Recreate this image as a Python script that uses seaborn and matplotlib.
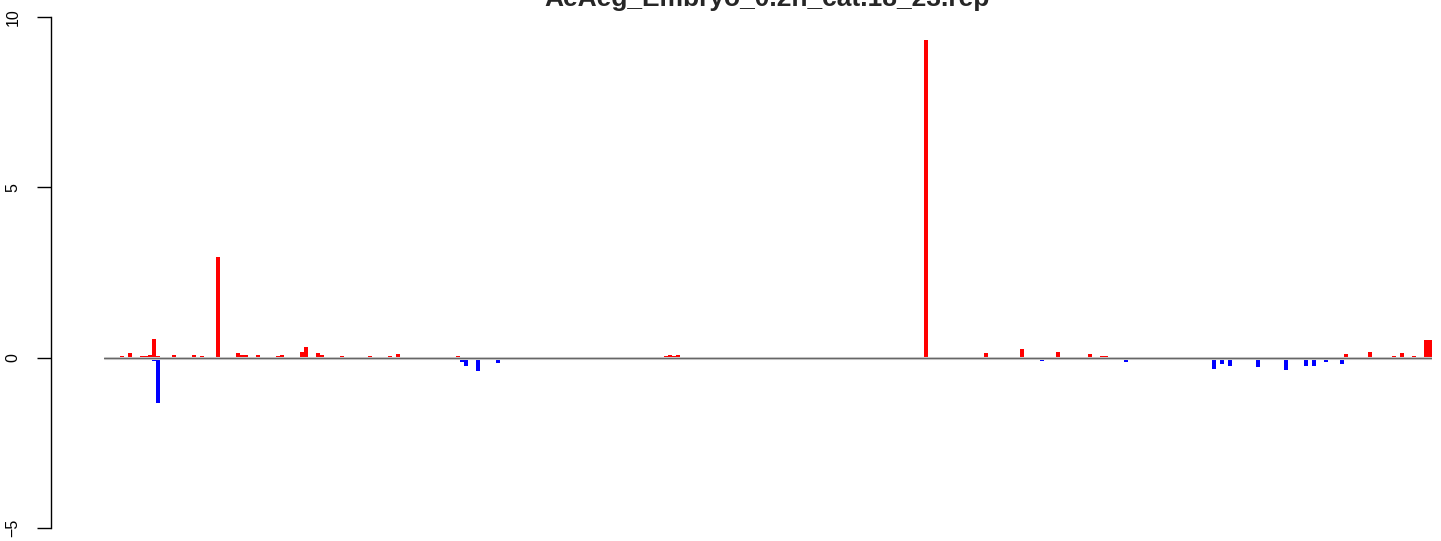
import matplotlib
matplotlib.use('Agg')
import matplotlib.pyplot as plt
import numpy as np
import pandas as pd
import seaborn as sns

# bins along the region (332 slots), only non-zero ones listed
n_bins = 332
red_bins = [4, 6, 9, 10, 11, 12, 13, 17, 18, 19, 22, 23, 24, 27, 28, 33, 34, 35, 38,
            43, 44, 45, 49, 50, 53, 54, 56, 58, 59, 63, 66, 71, 72, 73, 77, 85, 88,
            102, 121, 136, 137, 140, 141, 142, 143, 190, 195, 196, 205, 214, 220, 229,
            238, 246, 247, 249, 250, 262, 266, 287, 290, 293, 308, 310, 313, 316,
            322, 324, 327, 328, 329, 330, 331]
red_vals = [0.06, 0.15, 0.06, 0.06, 0.09, 0.56, 0.06, 0.09, 0.03, 0.03, 0.09, 0.03, 0.06, 0.03, 2.95, 0.15, 0.09, 0.09, 0.09,
            0.06, 0.09, 0.03, 0.18, 0.32, 0.15, 0.09, 0.03, 0.03, 0.06, 0.03, 0.06, 0.06, 0.03, 0.12, 0.03, 0.03, 0.06,
            0.03, 0.03, 0.03, 0.03, 0.06, 0.09, 0.06, 0.09, 0.03, 0.03, 0.03, 9.33, 0.03, 0.15, 0.26,
            0.18, 0.12, 0.03, 0.06, 0.06, 0.03, 0.03, 0.03, 0.03, 0.03, 0.03, 0.12, 0.03, 0.18,
            0.06, 0.15, 0.06, 0.03, 0.03, 0.53, 0.53]
blue_bins = [8, 12, 13, 21, 37, 49, 54, 64, 89, 90, 91, 92, 93, 98, 105, 113, 116, 121, 123,
             150, 189, 191, 206, 223, 231, 234, 235, 242, 255, 262, 276, 277, 279, 281,
             286, 288, 295, 297, 300, 302, 303, 305, 309, 310, 312, 315, 326, 330, 331]
blue_vals = [-0.05, -0.11, -1.33, -0.05, -0.05, -0.05, -0.05, -0.05, -0.12, -0.23, -0.05, -0.08, -0.40, -0.15, -0.08, -0.05, -0.08, -0.05, -0.05,
             -0.08, -0.05, -0.05, -0.05, -0.05, -0.05, -0.11, -0.05, -0.05, -0.14, -0.08, -0.05, -0.34, -0.20, -0.23,
             -0.05, -0.28, -0.37, -0.08, -0.23, -0.23, -0.05, -0.14, -0.20, -0.08, -0.05, -0.08, -0.05, -0.05, -0.05]
y_ticks = [-5, 0, 5, 10]
title = 'AeAeg_Embryo_0.2h_cat.18_23.rep'

red_full = np.zeros(n_bins)
red_full[red_bins] = red_vals
blue_full = np.zeros(n_bins)
blue_full[blue_bins] = blue_vals
df = pd.DataFrame({'bin': np.arange(n_bins), 'red': red_full, 'blue': blue_full})

sns.set_style('white')
plt.rcParams['font.family'] = ['Liberation Sans', 'DejaVu Sans']

W, H = 1441, 541
fig = plt.figure(figsize=(W / 100, H / 100), dpi=100)
# axes area: bars from x=104..1432 px, y=10 at 17 px, y=-5 at 528 px
ax = fig.add_axes([104 / W, 1 - 528 / H, (1432 - 104) / W, (528 - 17) / H])

order = list(range(n_bins))
sns.barplot(data=df, x='bin', y='red', order=order, color='#ff0000', saturation=1,
            width=1, linewidth=0, errorbar=None, ax=ax)
sns.barplot(data=df, x='bin', y='blue', order=order, color='#0000ff', saturation=1,
            width=1, linewidth=0, errorbar=None, ax=ax)

ax.axhline(0, color='#d9d9d9', lw=2.2, zorder=3)
ax.axhline(0, color='#666666', lw=1.0, zorder=4)

ax.set_xlim(-0.5, n_bins - 0.5)
ax.set_ylim(-5, 10)
ax.set_xlabel('')
ax.set_ylabel('')
ax.set_xticks([])
for s in ['top', 'right', 'bottom']:
    ax.spines[s].set_visible(False)
ax.spines['left'].set_position(('outward', 53 * 0.72))
ax.spines['left'].set_bounds(-5, 10)
ax.spines['left'].set_color('black')
ax.spines['left'].set_linewidth(1)
ax.set_yticks(y_ticks)
ax.set_yticklabels([str(t).replace('-', '\u2212') for t in y_ticks], rotation=90, va='center', fontsize=11.5)
ax.tick_params(axis='y', direction='out', length=10, width=1, pad=12, colors='black', left=True)

fig.text(767 / W, 1 - 6 / H, title, ha='center', va='baseline', fontsize=19, fontweight='bold')

fig.savefig('out.png', dpi=100)
